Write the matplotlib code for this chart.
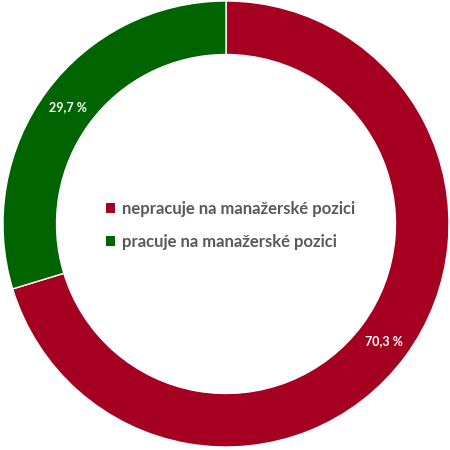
import matplotlib.pyplot as plt
import numpy as np

# datos
categorias = ['nepracuje na manažerské pozici', 'pracuje na manažerské pozici']
valores = [70.3, 29.7]
etiquetas = ['70,3 %', '29,7 %']
colores = ['#A50021', '#006400']

fig = plt.figure(figsize=(4.5, 4.5), dpi=100)
ax = fig.add_axes([0, 0, 1, 1])

wedges, _ = ax.pie(valores, colors=colores, startangle=90, counterclock=False,
                   radius=1.0, wedgeprops=dict(width=0.24, edgecolor='white', linewidth=1))

# etiquetas en el centro del anillo
for w, txt in zip(wedges, etiquetas):
    ang = np.deg2rad((w.theta1 + w.theta2) / 2)
    r = 0.88
    ax.text(r * np.cos(ang), r * np.sin(ang), txt, ha='center', va='center',
            color='white', fontsize=9, fontweight='bold', family=['Lato', 'DejaVu Sans'])

ax.set_xlim(-226 / 223, 224 / 223)
ax.set_ylim(-226 / 223, 224 / 223)
ax.set_aspect('equal')
ax.axis('off')

leg = ax.legend(wedges, categorias, loc='center left', bbox_to_anchor=(0.236, 0.499),
                frameon=False, borderpad=0, borderaxespad=0,
                handlelength=0.55, handleheight=0.55, handletextpad=0.4,
                labelspacing=1.0, prop=dict(family=['Lato', 'DejaVu Sans'], weight='bold', size=12))
for t in leg.get_texts():
    t.set_color('#595959')
for h in leg.legend_handles:
    h.set_edgecolor('none')

plt.savefig('out.png', dpi=100)
